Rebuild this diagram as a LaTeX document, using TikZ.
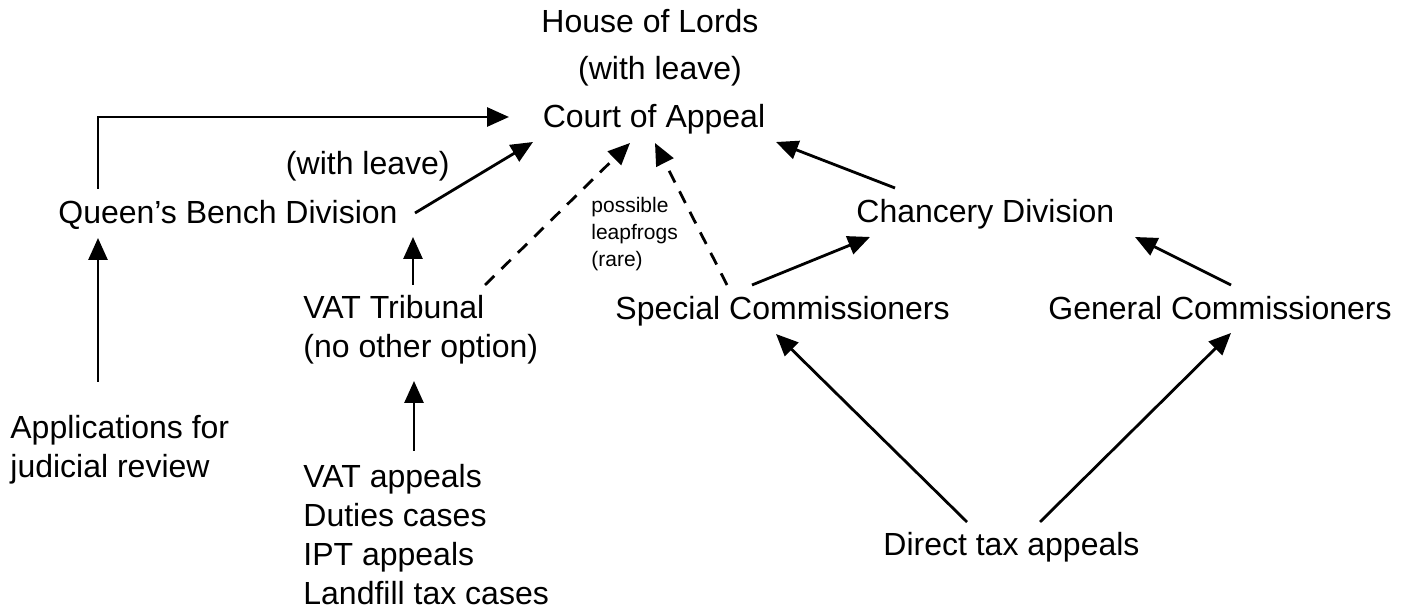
\documentclass[tikz,border=0pt]{standalone}
\usepackage{fontspec}
\setmainfont{Liberation Sans}
\usetikzlibrary{arrows.meta,calc}
\begin{document}
\begin{tikzpicture}[x=0.5pt,y=-0.5pt,
  lbl/.style={inner sep=0pt,font=\fontsize{16}{19.5}\selectfont,align=left},
  note/.style={inner sep=0pt,font=\fontsize{10.5}{13.5}\selectfont,align=left},
  arr/.style={line width=1.4pt,-{Triangle[length=11pt,width=9.5pt]}},
  leap/.style={arr,dash pattern=on 6.5pt off 5pt}]
\useasboundingbox (0,0) rectangle (1408,613);

% courts and tribunals (multi-line nodes are placed by their last baseline)
\node[lbl,anchor=base] (hol) at (650,33) {House of Lords};
\node[lbl,anchor=base] (lv1) at (660,80) {(with leave)};
\node[lbl,anchor=base] (coa) at (654,128) {Court of Appeal};
\node[lbl,anchor=base east] (lv2) at (450,175) {(with leave)};
\node[lbl,anchor=base west] (qbd) at (58,224) {Queen’s Bench Division};
\node[lbl,anchor=base west] (chd) at (856,223) {Chancery Division};
\node[lbl,anchor=base west] (vat) at (303,358) {VAT Tribunal\\(no other option)};
\node[lbl,anchor=base west] (sc) at (615,320) {Special Commissioners};
\node[lbl,anchor=base west] (gc) at (1048,320) {General Commissioners};
\node[note,anchor=base west] (leapnote) at (591,267) {possible\\leapfrogs\\(rare)};

% starting points of appeals
\node[lbl,anchor=base west] (app) at (10,478) {Applications for\\judicial review};
\node[lbl,anchor=base west] (list) at (303,605) {VAT appeals\\Duties cases\\IPT appeals\\Landfill tax cases};
\node[lbl,anchor=base west] (dta) at (883,556) {Direct tax appeals};

% routes of appeal
\draw[arr] ($(qbd.base west)+(40,-35)$) |- ($(coa.base)+(-145,-11)$);
\draw[arr] ($(app.base west)+(88,-96)$) -- ($(qbd.base west)+(40,14)$);
\draw[arr] ($(qbd.base west)+(357,-11)$) -- ($(coa.base)+(-121,14)$);
\draw[arr] ($(vat.base west)+(110,-73)$) -- ($(qbd.base west)+(355,13)$);
\draw[arr] ($(list.base west)+(111,-154)$) -- ($(vat.base west)+(111,23)$);
\draw[leap] ($(vat.base west)+(182,-73)$) -- ($(coa.base)+(-24,15)$);
\draw[leap] ($(sc.base west)+(112,-35)$) -- ($(coa.base)+(1,15)$);
\draw[arr] ($(chd.base west)+(39,-35)$) -- ($(coa.base)+(122,14)$);
\draw[arr] ($(sc.base west)+(137,-35)$) -- ($(chd.base west)+(14,14)$);
\draw[arr] ($(gc.base west)+(183,-35)$) -- ($(chd.base west)+(279,14)$);
\draw[arr] ($(dta.base west)+(84,-34)$) -- ($(sc.base west)+(161,14)$);
\draw[arr] ($(dta.base west)+(157,-34)$) -- ($(gc.base west)+(183,13)$);
\end{tikzpicture}
\end{document}
